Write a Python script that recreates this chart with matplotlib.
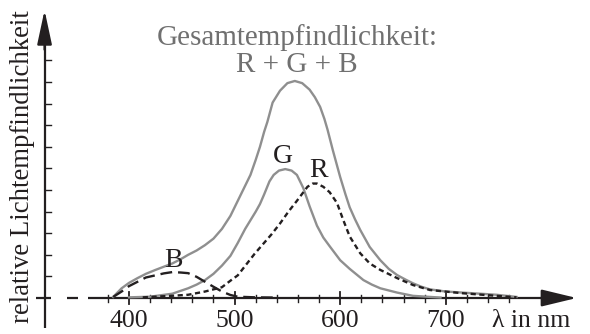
import matplotlib
matplotlib.use('Agg')
import matplotlib.pyplot as plt

# Wellenlaengen (nm) und relative Empfindlichkeit
wl_total = [385, 393, 400, 408, 416, 425, 433, 441, 449, 456, 464, 472, 480, 488, 496,
            503, 510, 515, 520, 524, 528, 531, 536, 543, 550, 557, 564, 571, 576, 581,
            585, 588, 593, 600, 605, 609, 614, 619, 628, 638, 646, 654, 662, 669, 677,
            685, 700, 716, 732, 748, 767]
total = [0.05, 0.45, 0.7, 0.92, 1.12, 1.3, 1.45, 1.6, 1.8, 2.0, 2.2, 2.45, 2.75, 3.2, 3.8,
         4.5, 5.2, 5.7, 6.4, 7.0, 7.7, 8.15, 9.05, 9.6, 9.95, 10.05, 9.95, 9.65, 9.3, 8.85,
         8.3, 7.8, 6.85, 5.6, 4.8, 4.2, 3.65, 3.15, 2.36, 1.75, 1.35, 1.06, 0.85, 0.68, 0.52,
         0.4, 0.3, 0.25, 0.2, 0.15, 0.05]

wl_g = [400, 420, 441, 456, 464, 472, 480, 488, 496, 503, 510, 515, 520, 524, 528, 533,
        537, 542, 548, 554, 559, 565, 571, 578, 584, 590, 600, 609, 622, 630, 638, 654,
        669, 695]
green = [0.03, 0.06, 0.2, 0.45, 0.62, 0.83, 1.12, 1.5, 1.95, 2.55, 3.2, 3.6, 4.0, 4.35,
         4.8, 5.4, 5.7, 5.9, 5.97, 5.9, 5.7, 5.1, 4.25, 3.35, 2.8, 2.4, 1.75, 1.35, 0.83,
         0.62, 0.45, 0.25, 0.1, 0.02]

wl_r = [413, 440, 456, 472, 488, 496, 503, 511, 519, 527, 535, 543, 551, 559, 569, 574,
        578, 584, 590, 597, 603, 609, 619, 628, 638, 654, 669, 685, 716, 748, 767]
red = [0.03, 0.1, 0.15, 0.3, 0.5, 0.8, 1.05, 1.55, 2.05, 2.5, 2.95, 3.45, 4.0, 4.5, 5.15,
       5.3, 5.3, 5.15, 4.9, 4.4, 3.6, 2.85, 2.07, 1.6, 1.3, 0.92, 0.6, 0.37, 0.22, 0.1, 0.03]

wl_b = [385, 393, 400, 408, 416, 425, 433, 441, 449, 456, 464, 472, 480, 488, 496, 503,
        520, 540]
blue = [0.05, 0.3, 0.55, 0.75, 0.95, 1.05, 1.14, 1.2, 1.18, 1.15, 0.98, 0.75, 0.52, 0.3,
        0.14, 0.06, 0.03, 0.02]

major_ticks = [400, 500, 600, 700]
minor_ticks = [380, 420, 440, 460, 480, 520, 540, 560, 580, 620, 640, 660, 680, 720, 740, 760]
y_ticks = [1, 2, 3, 4, 5, 6, 7, 8, 9, 10, 11]

GRAU = '#8f8f8f'
SCHWARZ = '#231f20'
FONT = 'Liberation Serif'

fig = plt.figure(figsize=(5.9, 3.34), dpi=100)
ax = fig.add_axes([0, 0, 1, 1])
ax.set_xlim(277.8, 836.6)
ax.set_ylim(-1.667, 13.8)
ax.axis('off')

# Achsen
x0 = 320  # Lage der y-Achse
ax.plot([361, 815], [0, 0], color=SCHWARZ, lw=1.6, solid_capstyle='butt')
ax.plot([341, 352], [0, 0], color=SCHWARZ, lw=1.6, solid_capstyle='butt')
ax.plot([312, 326], [0, 0], color=SCHWARZ, lw=1.6, solid_capstyle='butt')
ax.plot([x0, x0], [-1.39, 12.5], color=SCHWARZ, lw=1.6, solid_capstyle='butt')
ax.annotate('', xy=(824, 0), xytext=(790, 0),
            arrowprops=dict(arrowstyle='-|>,head_length=1.45,head_width=0.35',
                            mutation_scale=15, color=SCHWARZ, lw=1.6, shrinkA=0, shrinkB=0))
ax.annotate('', xy=(x0, 13.33), xytext=(x0, 11.5),
            arrowprops=dict(arrowstyle='-|>,head_length=1.4,head_width=0.3',
                            mutation_scale=15, color=SCHWARZ, lw=1.6, shrinkA=0, shrinkB=0))

for t in major_ticks:
    ax.plot([t, t], [-0.28, 0.28], color=SCHWARZ, lw=1.3)
    ax.text(t, -1.34, str(t), ha='center', va='baseline', family=FONT,
            fontsize=18.5, color=SCHWARZ)
for t in minor_ticks:
    ax.plot([t, t], [-0.18, 0.15], color=SCHWARZ, lw=1.0)
for t in y_ticks:
    ax.plot([x0, 325.7], [t, t], color=SCHWARZ, lw=1.0)

ax.text(743.7, -1.34, 'λ in nm', ha='left', va='baseline', family=FONT,
        fontsize=18.5, color=SCHWARZ)
ax.text(298.7, 6.1, 'relative Lichtempfindlichkeit', rotation=90, ha='center',
        va='center', family=FONT, fontsize=19.3, color=SCHWARZ)

# Kurven
ax.plot(wl_total, total, color=GRAU, lw=1.7, solid_joinstyle='round')
ax.plot(wl_g, green, color=GRAU, lw=1.7, solid_joinstyle='round')
ax.plot(wl_r, red, color=SCHWARZ, lw=1.7, linestyle=(0, (2.2, 1.5)))
ax.plot(wl_b, blue, color=SCHWARZ, lw=1.7, linestyle=(0, (5, 2.5)))

# Beschriftungen
ax.text(559, 11.71, 'Gesamtempfindlichkeit:', ha='center', va='baseline',
        family=FONT, fontsize=21, color='#707070')
ax.text(559, 10.46, 'R + G + B', ha='center', va='baseline',
        family=FONT, fontsize=21, color='#707070')
ax.text(545.8, 6.25, 'G', ha='center', va='baseline', family=FONT, fontsize=20, color=SCHWARZ)
ax.text(579, 5.6, 'R', ha='center', va='baseline', family=FONT, fontsize=20, color=SCHWARZ)
ax.text(441.7, 1.44, 'B', ha='center', va='baseline', family=FONT, fontsize=20, color=SCHWARZ)

fig.savefig('out.png', dpi=100, facecolor='white')
plt.close(fig)
